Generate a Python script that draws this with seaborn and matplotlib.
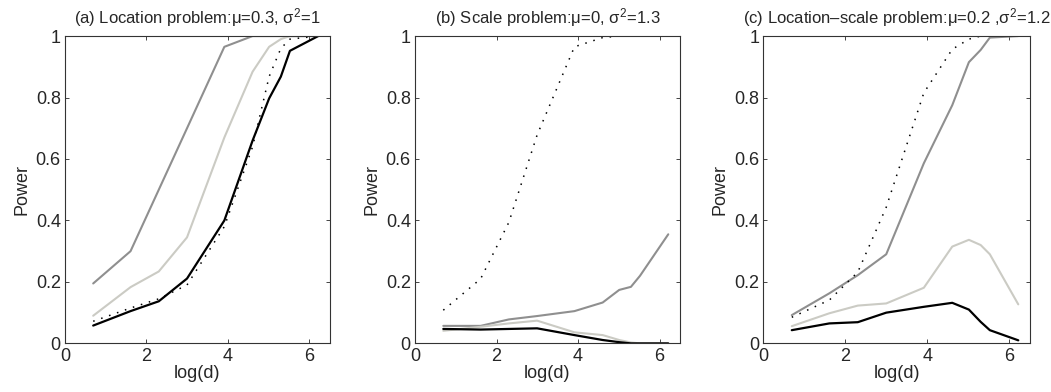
import numpy as np
import pandas as pd
import matplotlib
matplotlib.use("Agg")
import matplotlib.pyplot as plt
import seaborn as sns

# x positions: log(d)
d_values = [2, 5, 10, 20, 50, 100, 150, 200, 250, 500]
log_d = np.log(d_values)

series_names = ["gray", "lightgray", "black", "dotted"]

# Panel (a) Location problem
a_gray = [0.195, 0.30, 0.50, 0.70, 0.965, 1.0, 1.0, 1.0, 1.0, 1.0]
a_light = [0.09, 0.183, 0.234, 0.345, 0.67, 0.884, 0.965, 0.99, 1.0, 1.0]
a_black = [0.058, 0.105, 0.137, 0.211, 0.40, 0.66, 0.797, 0.868, 0.952, 1.0]
a_dotted = [0.072, 0.115, 0.145, 0.19, 0.38, 0.64, 0.868, 0.96, 0.99, 1.0]

# Panel (b) Scale problem
b_gray = [0.057, 0.057, 0.078, 0.089, 0.105, 0.133, 0.174, 0.184, 0.22, 0.355]
b_light = [0.041, 0.054, 0.065, 0.074, 0.036, 0.027, 0.011, 0.003, 0.0, 0.0]
b_black = [0.047, 0.045, 0.047, 0.049, 0.027, 0.011, 0.004, 0.0, 0.0, 0.0]
b_dotted = [0.108, 0.21, 0.394, 0.678, 0.965, 0.995, 1.0, 1.0, 1.0, 1.0]

# Panel (c) Location-scale problem
c_gray = [0.092, 0.163, 0.222, 0.29, 0.586, 0.775, 0.915, 0.955, 0.995, 1.0]
c_light = [0.056, 0.098, 0.123, 0.13, 0.181, 0.315, 0.337, 0.32, 0.29, 0.127]
c_black = [0.043, 0.065, 0.069, 0.10, 0.119, 0.132, 0.11, 0.07, 0.043, 0.01]
c_dotted = [0.085, 0.141, 0.232, 0.443, 0.815, 0.957, 0.99, 1.0, 1.0, 1.0]

titles = [
    r"(a) Location problem:$\mu$=0.3, $\sigma^2$=1",
    r"(b) Scale problem:$\mu$=0, $\sigma^2$=1.3",
    r"(c) Location–scale problem:$\mu$=0.2 ,$\sigma^2$=1.2",
]
x_ticks = [0, 2, 4, 6]
y_ticks = [0, 0.2, 0.4, 0.6, 0.8, 1]
y_tick_labels = ["0", "0.2", "0.4", "0.6", "0.8", "1"]

panels = [
    [a_gray, a_light, a_black, a_dotted],
    [b_gray, b_light, b_black, b_dotted],
    [c_gray, c_light, c_black, c_dotted],
]

sns.set_style("ticks")
plt.rcParams["font.family"] = ["Liberation Sans", "DejaVu Sans"]
plt.rcParams["mathtext.fontset"] = "custom"
plt.rcParams["mathtext.rm"] = "Liberation Sans"
plt.rcParams["mathtext.it"] = "Liberation Sans"

colors = {"gray": "#8f8f8f", "lightgray": "#cbcbc4", "black": "#000000", "dotted": "#000000"}
styles = {"gray": "-", "lightgray": "-", "black": "-", "dotted": (0, (1, 4.5))}
widths = {"gray": 1.5, "lightgray": 1.5, "black": 1.6, "dotted": 1.1}

fig = plt.figure(figsize=(10.51, 3.92), dpi=100)
lefts = [0.0618, 0.3949, 0.7263]
widths_ax = [0.252, 0.252, 0.2537]

for i, (vals, title) in enumerate(zip(panels, titles)):
    ax = fig.add_axes([lefts[i], 0.124, widths_ax[i], 0.784])
    rows = []
    for name, v in zip(series_names, vals):
        for x, y in zip(log_d, v):
            rows.append({"logd": x, "power": y, "series": name})
    df = pd.DataFrame(rows)
    for name in series_names:
        sub = df[df["series"] == name]
        sns.lineplot(data=sub, x="logd", y="power", ax=ax, color=colors[name],
                     linestyle=styles[name], linewidth=widths[name],
                     legend=False, estimator=None, sort=False)
    ax.set_xlim(0, 6.5)
    ax.set_ylim(0, 1)
    ax.set_xticks(x_ticks)
    ax.set_yticks(y_ticks)
    ax.set_yticklabels(y_tick_labels)
    ax.tick_params(direction="in", top=True, right=True, labelsize=13,
                   length=3, width=0.6, pad=3)
    for sp in ax.spines.values():
        sp.set_visible(True)
        sp.set_linewidth(0.8)
        sp.set_color("#333333")
    ax.set_xlabel("log(d)", fontsize=13, labelpad=0)
    ax.set_ylabel("Power", fontsize=13, labelpad=4)
    ax.set_title(title, fontsize=12, pad=9)

fig.savefig("out.png", dpi=100)
